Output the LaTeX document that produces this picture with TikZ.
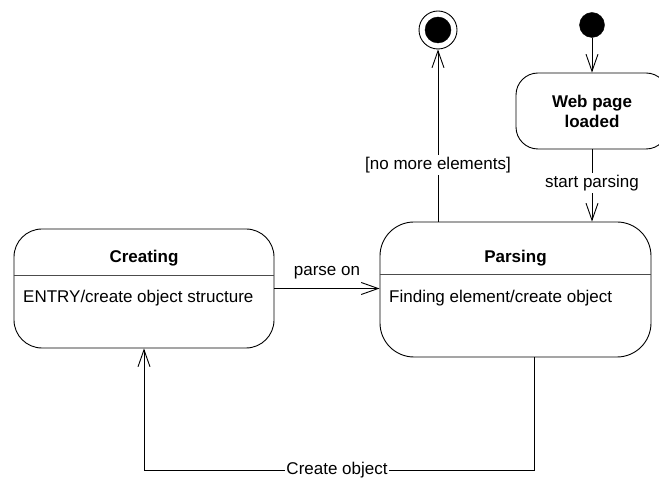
\documentclass[tikz,border=0pt]{standalone}
\usepackage{fontspec}
\setmainfont{Liberation Sans}
\usetikzlibrary{arrows.meta}
\begin{document}
\begin{tikzpicture}[x=1pt,y=-1pt,
  every node/.style={font=\fontsize{17}{19.5}\selectfont, inner sep=0pt},
  statebox/.style={draw=black, line width=0.9pt, rounded corners=#1},
  divider/.style={draw=black!70, line width=0.9pt},
  title/.style={font=\fontsize{17}{19.5}\selectfont\bfseries},
  body/.style={anchor=west},
  edge/.style={draw=black, line width=0.9pt, -{Straight Barb[length=17pt,width=12pt,line width=0.9pt]}},
  lbl/.style={fill=white, inner sep=2pt},
  dot/.style={circle, fill=black, draw=black}
]
\useasboundingbox (0,0) rectangle (659,478);

% composite states
\node[statebox=28, minimum width=260pt, minimum height=119pt] (creating) at (144,288.5) {};
\draw[divider] (creating.west |- 0,275) -- (creating.east |- 0,275);
\node[title] (creatingT) at (144,258) {Creating};
\node[body] (creatingB) at (23,298) {ENTRY/create object structure};

\node[statebox=34, minimum width=271pt, minimum height=135pt] (parsing) at (515.5,289.5) {};
\draw[divider] (parsing.west |- 0,274) -- (parsing.east |- 0,274);
\node[title] (parsingT) at (515.5,258) {Parsing};
\node[body] (parsingB) at (389,298) {Finding element/create object};

\node[statebox=22, minimum width=152pt, minimum height=76pt, align=center,
      font=\fontsize{17}{20}\selectfont\bfseries] (web) at (592,111) {Web page\\loaded};

% pseudo states
\node[dot, minimum size=25pt] (init) at (592,25) {};
\node[circle, draw=black, line width=0.9pt, minimum size=38pt] (final) at (438,30) {};
\node[dot, minimum size=26pt] (finalIn) at (final.center) {};

% transitions
\draw[edge] (init) -- (web.north -| init);
\draw[edge] (web.south -| init) -- node[lbl, pos=0.47] (startL) {start parsing} (parsing.north -| init);
\draw[edge] (final |- parsing.north) -- node[lbl, pos=0.33] (nomoreL) {[no more elements]} (final.south);
\draw[edge] (creating.east) -- node[above=9pt] (parseL) {parse on} (creating.east -| parsing.west);

\coordinate (loopR) at (534,470.5);
\coordinate (loopL) at (144,470.5);
\draw[edge] (loopR |- parsing.south) -- (loopR) -- node[lbl, inner sep=1pt, pos=0.505] (createL) {Create object} (loopL) -- (loopL |- creating.south);
\end{tikzpicture}
\end{document}
